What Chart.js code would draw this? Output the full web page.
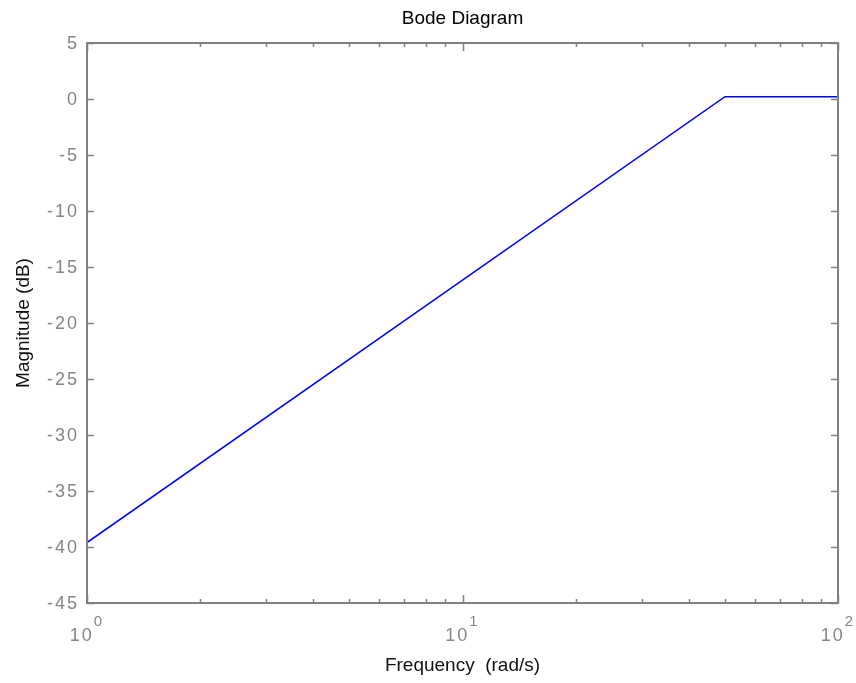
<!DOCTYPE html>
<html>
<head>
<meta charset="utf-8">
<script src="https://cdn.jsdelivr.net/npm/chart.js@4/dist/chart.umd.min.js"></script>
<style>
  body { margin: 0; background: #fff; }
  #bode { display: block; }
</style>
</head>
<body>
<canvas id="bode" width="856" height="683"></canvas>
<script>
// asymptotic magnitude
const freq = [1, 50, 100];
const magnitude = [-39.6, 0.2, 0.2];

const yTicks = [5, 0, -5, -10, -15, -20, -25, -30, -35, -40, -45];
const xMajor = [1, 10, 100];
const xExponents = ['0', '1', '2'];
const xMinor = [2, 3, 4, 5, 6, 7, 8, 9, 20, 30, 40, 50, 60, 70, 80, 90];

const FONT = '"Liberation Sans", Arial, sans-serif';
const AXIS_GRAY = '#808080';
const LABEL_GRAY = '#858585';

const bodeFrame = {
    id: 'bodeFrame',
    afterDatasetsDraw(chart) {
        const ctx = chart.ctx;
        const area = chart.chartArea;
        const xs = chart.scales.x;
        const ys = chart.scales.y;

        ctx.save();
        ctx.strokeStyle = AXIS_GRAY;
        ctx.lineWidth = 2;
        ctx.strokeRect(area.left, area.top, area.right - area.left, area.bottom - area.top);

        // y ticks, inward on both sides
        ctx.lineWidth = 1.5;
        ctx.beginPath();
        yTicks.forEach(v => {
            const py = Math.round(ys.getPixelForValue(v)) + 0.5;
            ctx.moveTo(area.left, py);
            ctx.lineTo(area.left + 7, py);
            ctx.moveTo(area.right, py);
            ctx.lineTo(area.right - 7, py);
        });
        // x ticks, inward top and bottom
        xMajor.forEach(v => {
            const px = Math.round(xs.getPixelForValue(v)) + 0.5;
            ctx.moveTo(px, area.bottom);
            ctx.lineTo(px, area.bottom - 8);
            ctx.moveTo(px, area.top);
            ctx.lineTo(px, area.top + 8);
        });
        xMinor.forEach(v => {
            const px = Math.round(xs.getPixelForValue(v)) + 0.5;
            ctx.moveTo(px, area.bottom);
            ctx.lineTo(px, area.bottom - 4);
            ctx.moveTo(px, area.top);
            ctx.lineTo(px, area.top + 4);
        });
        ctx.stroke();

        // y tick labels
        ctx.fillStyle = LABEL_GRAY;
        ctx.font = '18px ' + FONT;
        ctx.letterSpacing = '2px';
        ctx.textAlign = 'right';
        ctx.textBaseline = 'middle';
        yTicks.forEach(v => {
            ctx.fillText(String(v), area.left - 8, ys.getPixelForValue(v) + 1);
        });

        // x tick labels as 10^n
        ctx.textBaseline = 'alphabetic';
        xMajor.forEach((v, i) => {
            const px = xs.getPixelForValue(v);
            ctx.font = '18px ' + FONT;
            const wBase = ctx.measureText('10').width;
            ctx.font = '15px ' + FONT;
            const wExp = ctx.measureText(xExponents[i]).width;
            const start = px - (wBase + wExp) / 2;
            ctx.textAlign = 'left';
            ctx.font = '18px ' + FONT;
            ctx.fillText('10', start, 641);
            ctx.font = '15px ' + FONT;
            ctx.fillText(xExponents[i], start + wBase, 626);
        });
        ctx.letterSpacing = '0px';

        // title and axis labels
        ctx.fillStyle = '#000';
        ctx.textAlign = 'center';
        ctx.font = '19px ' + FONT;
        ctx.fillText('Bode Diagram', (area.left + area.right) / 2, 24);
        ctx.fillStyle = '#111';
        ctx.fillText('Frequency  (rad/s)', (area.left + area.right) / 2, 671);
        ctx.translate(29, (area.top + area.bottom) / 2);
        ctx.rotate(-Math.PI / 2);
        ctx.fillText('Magnitude (dB)', 0, 0);
        ctx.restore();
    }
};

new Chart(document.getElementById('bode'), {
    type: 'line',
    data: {
        datasets: [{
            data: freq.map((f, i) => ({ x: f, y: magnitude[i] })),
            borderColor: '#0000ff',
            borderWidth: 1.5,
            pointRadius: 0,
            tension: 0,
            fill: false
        }]
    },
    options: {
        responsive: false,
        animation: false,
        layout: { padding: { left: 87, top: 43, right: 18, bottom: 80 } },
        plugins: { legend: { display: false }, tooltip: { enabled: false } },
        scales: {
            x: { type: 'logarithmic', min: 1, max: 100, display: false },
            y: { type: 'linear', min: -45, max: 5, display: false }
        }
    },
    plugins: [bodeFrame]
});
</script>
</body>
</html>
